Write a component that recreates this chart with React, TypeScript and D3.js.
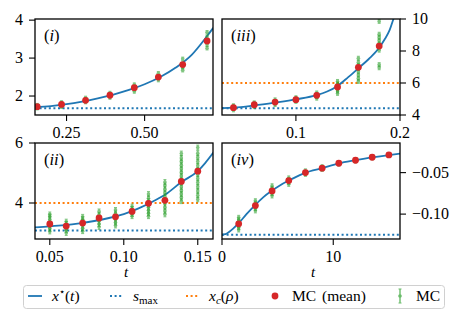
import React from "react";
import * as d3 from "d3";

// ---------- data ----------
// Panel (i)
const curveT1 = [0.149, 0.2, 0.25, 0.3, 0.35, 0.4, 0.45, 0.5, 0.55, 0.6, 0.65, 0.7, 0.72];
const curveV1 = [1.705, 1.735, 1.785, 1.855, 1.94, 2.04, 2.16, 2.31, 2.5, 2.75, 3.08, 3.58, 3.8];
const meanT1 = [0.156, 0.234, 0.311, 0.389, 0.467, 0.544, 0.622, 0.7];
const meanV1 = [1.72, 1.78, 1.887, 2.02, 2.22, 2.5, 2.83, 3.45];
const mc1 = [
  [1.68, 1.71, 1.73, 1.76],
  [1.72, 1.76, 1.79, 1.83],
  [1.84, 1.88, 1.91, 1.95],
  [1.96, 2.0, 2.03, 2.08],
  [2.12, 2.18, 2.22, 2.3],
  [2.42, 2.48, 2.52, 2.6],
  [2.68, 2.76, 2.85, 2.98],
  [3.26, 3.36, 3.46, 3.56, 3.68],
];
const smax1 = 1.68;

// Panel (iii)
const curveT3 = [0.029, 0.04, 0.06, 0.08, 0.1, 0.12, 0.13, 0.14, 0.15, 0.16, 0.17, 0.18, 0.185, 0.19, 0.1937, 0.197];
const curveV3 = [4.43, 4.46, 4.6, 4.78, 4.98, 5.24, 5.47, 5.82, 6.35, 6.92, 7.5, 8.2, 8.7, 9.3, 10.0, 10.6];
const meanT3 = [0.04, 0.06, 0.08, 0.1, 0.12, 0.14, 0.16, 0.18];
const meanV3 = [4.46, 4.64, 4.81, 4.96, 5.23, 5.75, 6.98, 8.31];
const mc3 = [
  [4.32, 4.42, 4.5, 4.58],
  [4.52, 4.6, 4.68, 4.76],
  [4.65, 4.75, 4.85, 4.95],
  [4.85, 4.93, 5.0, 5.08],
  [5.05, 5.15, 5.25, 5.38],
  [5.35, 5.5, 5.65, 5.8, 5.95, 6.1],
  [6.1, 6.3, 6.5, 6.7, 6.9, 7.1, 7.3, 7.55],
  [6.95, 7.15, 8.05, 8.25, 8.45, 8.65, 8.85, 9.05, 9.85],
];
const smax3 = 4.42;
const xc3 = 6.0;

// Panel (ii)
const curveT2 = [0.04, 0.05, 0.06, 0.07, 0.08, 0.09, 0.1, 0.11, 0.12, 0.128, 0.139, 0.15, 0.155, 0.161];
const curveV2 = [3.19, 3.22, 3.26, 3.32, 3.4, 3.5, 3.63, 3.82, 4.06, 4.28, 4.7, 5.06, 5.33, 5.71];
const meanT2 = [0.05, 0.0611, 0.0722, 0.0833, 0.0944, 0.1056, 0.1167, 0.1278, 0.1389, 0.15];
const meanV2 = [3.3, 3.23, 3.33, 3.5, 3.54, 3.72, 3.99, 4.09, 4.72, 5.06];
const mc2 = [
  [3.05, 3.15, 3.25, 3.35, 3.45, 3.55, 3.62],
  [3.0, 3.1, 3.2, 3.3, 3.38],
  [3.06, 3.16, 3.26, 3.36, 3.46, 3.54],
  [3.2, 3.3, 3.4, 3.5, 3.6, 3.72],
  [3.25, 3.35, 3.45, 3.55, 3.65, 3.77],
  [3.56, 3.64, 3.72, 3.8, 3.88],
  [3.56, 3.66, 3.76, 3.86, 3.96, 4.06, 4.16, 4.3],
  [3.62, 3.74, 3.86, 3.98, 4.1, 4.22, 4.34, 4.46, 4.58, 4.7],
  [4.06, 4.18, 4.3, 4.42, 4.54, 4.66, 4.78, 4.9, 5.02, 5.14, 5.26, 5.38, 5.5, 5.65],
  [4.12, 4.26, 4.4, 4.54, 4.68, 4.82, 4.96, 5.1, 5.24, 5.38, 5.52, 5.66, 5.85],
];
const smax2 = 3.08;
const xc2 = 4.0;

// Panel (iv)
const curveT4 = [0, 0.3, 0.57, 1.0, 1.5, 2.2, 3, 3.7, 4.5, 5.2, 6, 7.5, 9, 10.5, 12, 13.5, 15, 16];
const curveV4 = [-0.1249, -0.1242, -0.1221, -0.1175, -0.111, -0.1, -0.0888, -0.0798, -0.0716, -0.0654, -0.0596, -0.05, -0.0445, -0.0388, -0.035, -0.0316, -0.0288, -0.0272];
const meanT4 = [1.5, 3, 4.5, 6, 7.5, 9, 10.5, 12, 13.5, 15];
const meanV4 = [-0.1117, -0.0897, -0.072, -0.0596, -0.05, -0.0447, -0.0387, -0.0351, -0.0315, -0.0287];
const mc4 = [
  [-0.119, -0.116, -0.113, -0.11, -0.107, -0.104],
  [-0.096, -0.093, -0.09, -0.087, -0.084],
  [-0.078, -0.075, -0.072, -0.069, -0.066],
  [-0.064, -0.0615, -0.059, -0.0565],
  [-0.052, -0.05, -0.048],
  [-0.046, -0.0447, -0.043],
  [-0.0395, -0.0387, -0.038],
  [-0.0357, -0.0351, -0.0345],
  [-0.032, -0.0315, -0.031],
  [-0.029, -0.0287, -0.0284],
];
const smax4 = -0.125;

// Ticks
const xTicks1 = [0.25, 0.5];
const xTickLabels1 = ["0.25", "0.50"];
const yTicks1 = [2, 3, 4];
const yTickLabels1 = ["2", "3", "4"];
const xTicks3 = [0.1, 0.2];
const xTickLabels3 = ["0.1", "0.2"];
const yTicks3 = [4, 6, 8, 10];
const yTickLabels3 = ["4", "6", "8", "10"];
const xTicks2 = [0.05, 0.1, 0.15];
const xTickLabels2 = ["0.05", "0.10", "0.15"];
const yTicks2 = [4, 6];
const yTickLabels2 = ["4", "6"];
const xTicks4 = [0, 10];
const xTickLabels4 = ["0", "10"];
const yTicks4 = [-0.05, -0.1];
const yTickLabels4 = ["\u22120.05", "\u22120.10"];

// ---------- styles ----------
const FONT = "Liberation Serif";
const BLUE = "#1f77b4";
const ORANGE = "#ff7f0e";
const RED = "#d62728";
const GREEN = "#2ca02c";
const FS = 16;

type PanelProps = {
  id: string;
  box: [number, number, number, number];
  xDomain: [number, number];
  yDomain: [number, number];
  curveT: number[];
  curveV: number[];
  meanT: number[];
  meanV: number[];
  mc: number[][];
  err: number;
  smax: number;
  xc?: number;
  xTicks: number[];
  xTickLabels: string[];
  yTicks: number[];
  yTickLabels: string[];
  ySide: "left" | "right";
  label: string;
  showT: boolean;
};

function Panel(p: PanelProps) {
  const [x0, x1, y0, y1] = p.box;
  const x = d3.scaleLinear().domain(p.xDomain).range([x0, x1]);
  const y = d3.scaleLinear().domain(p.yDomain).range([y1, y0]);
  const line = d3
    .line<number>()
    .x((_, i) => x(p.curveT[i]))
    .y((v) => y(v))
    .curve(d3.curveMonotoneX);
  const clipId = "clip-" + p.id;
  const tickLen = 6;
  return (
    <g>
      <defs>
        <clipPath id={clipId}>
          <rect x={x0} y={y0} width={x1 - x0} height={y1 - y0} />
        </clipPath>
      </defs>
      <g clipPath={`url(#${clipId})`}>
        <line x1={x0} x2={x1} y1={y(p.smax)} y2={y(p.smax)} stroke={BLUE} strokeWidth={2} strokeDasharray="2,2.6" />
        {p.xc !== undefined && (
          <line x1={x0} x2={x1} y1={y(p.xc)} y2={y(p.xc)} stroke={ORANGE} strokeWidth={2} strokeDasharray="2,2.6" />
        )}
        <path d={line(p.curveV) || ""} fill="none" stroke={BLUE} strokeWidth={1.8} />
        {p.mc.map((vals, i) =>
          vals.map((v, j) => {
            const cx = x(p.meanT[i]);
            const ya = y(v - p.err);
            const yb = y(v + p.err);
            return (
              <g key={`${i}-${j}`} opacity={0.6}>
                <line x1={cx} x2={cx} y1={ya} y2={yb} stroke={GREEN} strokeWidth={1.8} />
                <line x1={cx - 1.5} x2={cx + 1.5} y1={ya} y2={ya} stroke={GREEN} strokeWidth={1} />
                <line x1={cx - 1.5} x2={cx + 1.5} y1={yb} y2={yb} stroke={GREEN} strokeWidth={1} />
                <circle cx={cx} cy={y(v)} r={1.8} fill={GREEN} />
              </g>
            );
          })
        )}
        {p.meanV.map((v, i) => (
          <circle key={i} cx={x(p.meanT[i])} cy={y(v)} r={3.4} fill={RED} />
        ))}
      </g>
      <rect x={x0} y={y0} width={x1 - x0} height={y1 - y0} fill="none" stroke="#000" strokeWidth={1.3} />
      {p.xTicks.map((t, i) => (
        <g key={"xt" + i}>
          <line x1={x(t)} x2={x(t)} y1={y1} y2={y1 + tickLen} stroke="#000" strokeWidth={1.1} />
          <text x={x(t)} y={y1 + 23} textAnchor="middle" fontFamily={FONT} fontSize={FS}>
            {p.xTickLabels[i]}
          </text>
        </g>
      ))}
      {p.yTicks.map((t, i) => {
        const yy = y(t);
        return p.ySide === "left" ? (
          <g key={"yt" + i}>
            <line x1={x0 - tickLen} x2={x0} y1={yy} y2={yy} stroke="#000" strokeWidth={1.1} />
            <text x={x0 - 12} y={yy + 5} textAnchor="end" fontFamily={FONT} fontSize={FS}>
              {p.yTickLabels[i]}
            </text>
          </g>
        ) : (
          <g key={"yt" + i}>
            <line x1={x1} x2={x1 + tickLen} y1={yy} y2={yy} stroke="#000" strokeWidth={1.1} />
            <text x={x1 + 12} y={yy + 5} textAnchor="start" fontFamily={FONT} fontSize={FS}>
              {p.yTickLabels[i]}
            </text>
          </g>
        );
      })}
      <text x={x0 + 9} y={y0 + 22} fontFamily={FONT} fontSize={16.5}>
        (<tspan fontStyle="italic">{p.label}</tspan>)
      </text>
      {p.showT && (
        <text x={(x0 + x1) / 2 + 2} y={y1 + 38} textAnchor="middle" fontFamily={FONT} fontSize={15} fontStyle="italic">
          t
        </text>
      )}
    </g>
  );
}

function Legend() {
  const yc = 296;
  const ty = 301;
  return (
    <g fontFamily={FONT} fontSize={15.5}>
      <rect x={23.5} y={285.5} width={421} height={23} rx={3} fill="#fff" stroke="#d0d0d0" strokeWidth={1} />
      <line x1={28} x2={42} y1={yc} y2={yc} stroke={BLUE} strokeWidth={1.8} />
      <text x={52} y={ty}>
        <tspan fontStyle="italic">x</tspan>
        <tspan fontSize={10} dy={-6}>{"\u22C6"}</tspan>
        <tspan dy={6}>(</tspan>
        <tspan fontStyle="italic">t</tspan>
        <tspan>)</tspan>
      </text>
      <line x1={110} x2={123} y1={yc} y2={yc} stroke={BLUE} strokeWidth={2} strokeDasharray="2,2.6" />
      <text x={133} y={ty}>
        <tspan fontStyle="italic">s</tspan>
        <tspan fontSize={11} dy={3}>max</tspan>
      </text>
      <line x1={186} x2={199} y1={yc} y2={yc} stroke={ORANGE} strokeWidth={2} strokeDasharray="2,2.6" />
      <text x={209} y={ty}>
        <tspan fontStyle="italic">x</tspan>
        <tspan fontSize={11} fontStyle="italic" dy={3}>c</tspan>
        <tspan dy={-3}>(</tspan>
        <tspan fontStyle="italic">{"\u03C1"}</tspan>
        <tspan>)</tspan>
      </text>
      <circle cx={275} cy={yc} r={3.4} fill={RED} />
      <text x={292} y={ty} wordSpacing={2}>MC (mean)</text>
      <g opacity={0.7}>
        <line x1={400} x2={400} y1={289} y2={303} stroke={GREEN} strokeWidth={1.4} />
        <line x1={398.5} x2={401.5} y1={289} y2={289} stroke={GREEN} strokeWidth={1} />
        <line x1={398.5} x2={401.5} y1={303} y2={303} stroke={GREEN} strokeWidth={1} />
        <circle cx={400} cy={yc} r={1.8} fill={GREEN} />
      </g>
      <text x={416} y={ty}>MC</text>
    </g>
  );
}

export default function App() {
  return (
    <svg
      width={469}
      height={322}
      style={{ position: "absolute", left: 0, top: 0, background: "#fff" }}
    >
      <Panel
        id="p1"
        box={[35, 213, 19, 115]}
        xDomain={[0.149, 0.719]}
        yDomain={[1.5, 4.03]}
        curveT={curveT1}
        curveV={curveV1}
        meanT={meanT1}
        meanV={meanV1}
        mc={mc1}
        err={0.045}
        smax={smax1}
        xTicks={xTicks1}
        xTickLabels={xTickLabels1}
        yTicks={yTicks1}
        yTickLabels={yTickLabels1}
        ySide="left"
        label="i"
        showT={false}
      />
      <Panel
        id="p3"
        box={[222, 400, 19, 115]}
        xDomain={[0.029, 0.2]}
        yDomain={[4, 10]}
        curveT={curveT3}
        curveV={curveV3}
        meanT={meanT3}
        meanV={meanV3}
        mc={mc3}
        err={0.12}
        smax={smax3}
        xc={xc3}
        xTicks={xTicks3}
        xTickLabels={xTickLabels3}
        yTicks={yTicks3}
        yTickLabels={yTickLabels3}
        ySide="right"
        label="iii"
        showT={false}
      />
      <Panel
        id="p2"
        box={[35, 213, 143, 239]}
        xDomain={[0.04, 0.1603]}
        yDomain={[2.8, 6]}
        curveT={curveT2}
        curveV={curveV2}
        meanT={meanT2}
        meanV={meanV2}
        mc={mc2}
        err={0.08}
        smax={smax2}
        xc={xc2}
        xTicks={xTicks2}
        xTickLabels={xTickLabels2}
        yTicks={yTicks2}
        yTickLabels={yTickLabels2}
        ySide="left"
        label="ii"
        showT={true}
      />
      <Panel
        id="p4"
        box={[222, 400, 143, 239]}
        xDomain={[0, 16]}
        yDomain={[-0.13, -0.0143]}
        curveT={curveT4}
        curveV={curveV4}
        meanT={meanT4}
        meanV={meanV4}
        mc={mc4}
        err={0.0025}
        smax={smax4}
        xTicks={xTicks4}
        xTickLabels={xTickLabels4}
        yTicks={yTicks4}
        yTickLabels={yTickLabels4}
        ySide="right"
        label="iv"
        showT={true}
      />
      <Legend />
    </svg>
  );
}
